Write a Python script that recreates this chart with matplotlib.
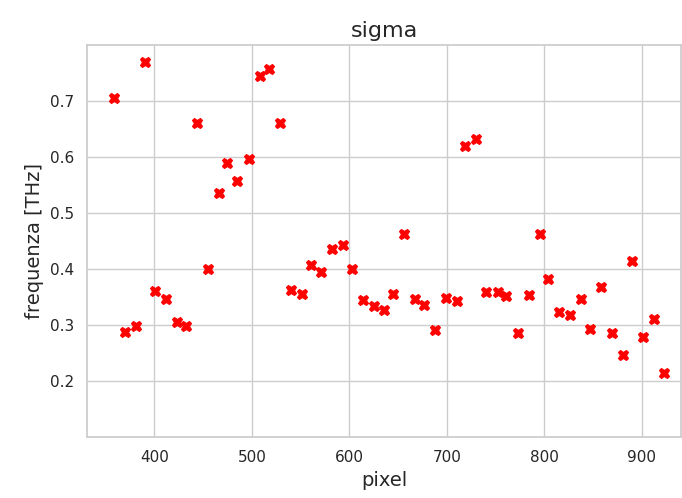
import matplotlib
matplotlib.use("Agg")
import matplotlib.pyplot as plt
import seaborn as sns

sns.set_theme(style="whitegrid")
plt.rcParams['font.family'] = ['DejaVu Sans']

pixel = [359, 370, 381, 390, 401, 412, 423, 432, 444, 455, 466, 475, 485, 497,
         508, 518, 529, 540, 551, 561, 571, 582, 593, 603, 614, 625, 635, 645,
         656, 667, 677, 688, 699, 710, 719, 730, 740, 752, 761, 773, 784, 795,
         804, 815, 826, 837, 847, 858, 869, 881, 890, 901, 912, 923]
sigma = [0.706, 0.288, 0.298, 0.770, 0.360, 0.346, 0.305, 0.298, 0.661, 0.400,
         0.536, 0.590, 0.558, 0.597, 0.745, 0.757, 0.661, 0.362, 0.355, 0.407,
         0.395, 0.436, 0.443, 0.400, 0.344, 0.334, 0.327, 0.355, 0.463, 0.346,
         0.336, 0.291, 0.349, 0.343, 0.620, 0.633, 0.359, 0.359, 0.352, 0.286,
         0.353, 0.462, 0.382, 0.324, 0.317, 0.346, 0.292, 0.368, 0.285, 0.247,
         0.414, 0.279, 0.311, 0.214]

fig = plt.figure(figsize=(6.82, 4.98), dpi=100)
ax = fig.add_axes([87/682, 61/498, 594/682, 392/498])
ax.plot(pixel, sigma, linestyle='none', marker='X', color='red',
        markersize=7.5, markeredgewidth=0.8)
ax.set_xlim(331, 940)
ax.set_ylim(0.1, 0.8)
ax.set_xticks([400, 500, 600, 700, 800, 900])
ax.set_yticks([0.2, 0.3, 0.4, 0.5, 0.6, 0.7])
ax.tick_params(labelsize=11)
ax.set_xlabel('pixel', fontsize=14)
ax.set_ylabel('frequenza [THz]', fontsize=14)
ax.set_title('sigma', fontsize=16)
fig.savefig('out.png', dpi=100)
